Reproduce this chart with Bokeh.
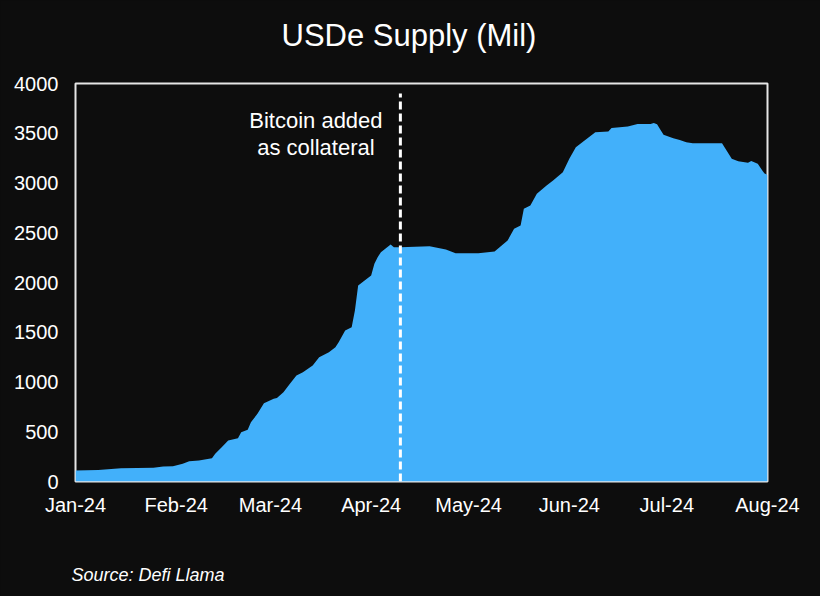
from datetime import datetime
from bokeh.plotting import figure
from bokeh.models import (ColumnDataSource, Range1d, FixedTicker, DatetimeTickFormatter, Title)
from bokeh.core.properties import value
from bokeh.embed import file_html
from bokeh.resources import INLINE

# ---------------- data ----------------
dates = ["2024-01-01", "2024-01-08", "2024-01-15", "2024-01-25", "2024-01-28", "2024-01-31",
         "2024-02-03", "2024-02-05", "2024-02-08", "2024-02-12", "2024-02-13", "2024-02-15",
         "2024-02-17", "2024-02-20", "2024-02-21", "2024-02-23", "2024-02-24", "2024-02-26",
         "2024-02-28", "2024-03-02", "2024-03-03", "2024-03-05", "2024-03-07", "2024-03-09",
         "2024-03-11", "2024-03-14", "2024-03-16", "2024-03-19", "2024-03-21", "2024-03-22",
         "2024-03-24", "2024-03-26", "2024-03-27", "2024-03-28", "2024-03-30", "2024-04-01",
         "2024-04-02", "2024-04-03", "2024-04-04", "2024-04-07", "2024-04-08", "2024-04-10",
         "2024-04-19", "2024-04-24", "2024-04-27", "2024-05-04", "2024-05-09", "2024-05-10",
         "2024-05-13", "2024-05-15", "2024-05-17", "2024-05-18", "2024-05-20", "2024-05-22",
         "2024-05-25", "2024-05-27", "2024-05-30", "2024-06-01", "2024-06-03", "2024-06-05",
         "2024-06-09", "2024-06-13", "2024-06-14", "2024-06-19", "2024-06-22", "2024-06-26",
         "2024-06-27", "2024-06-28", "2024-06-30", "2024-07-03", "2024-07-05", "2024-07-07",
         "2024-07-09", "2024-07-18", "2024-07-21", "2024-07-23", "2024-07-26", "2024-07-27",
         "2024-07-29", "2024-07-31", "2024-08-01"]
supply = [110, 115, 134, 137, 150, 153,
          178, 204, 210, 234, 278, 345,
          412, 435, 495, 520, 596, 680,
          787, 831, 838, 898, 982, 1065,
          1098, 1166, 1249, 1300, 1350, 1400,
          1518, 1551, 1719, 1970, 2020, 2070,
          2188, 2254, 2305, 2382, 2355, 2355,
          2365, 2332, 2295, 2295, 2312, 2338,
          2422, 2539, 2573, 2740, 2774, 2891,
          2975, 3025, 3108, 3243, 3360, 3410,
          3510, 3517, 3554, 3567, 3594, 3594,
          3604, 3590, 3484, 3450, 3433, 3410,
          3400, 3400, 3243, 3219, 3203, 3220,
          3193, 3098, 3080]

month_ticks = ["2024-01-01", "2024-02-01", "2024-03-01", "2024-04-01",
               "2024-05-01", "2024-06-01", "2024-07-01", "2024-08-01"]
y_ticks = [0, 500, 1000, 1500, 2000, 2500, 3000, 3500, 4000]

event_date = "2024-04-10"
event_text = ["Bitcoin added", "as collateral"]
event_text_x = "2024-03-15"
event_text_y = [3630, 3360]
event_line_y = [0, 3900]

title_text = "USDe Supply (Mil)"
source_text = "Source: Defi Llama"

# ---------------- helpers ----------------
def d(s):
    return datetime.strptime(s, "%Y-%m-%d")

def ms(s):
    return d(s).timestamp() * 1000.0

BG = "#0d0d0d"
BLUE = "#42B0FA"
FONT = "Liberation Sans"

src = ColumnDataSource(dict(x=[d(s) for s in dates], y=supply, y0=[0] * len(supply)))

p = figure(width=820, height=596, x_axis_type="datetime",
           output_backend="svg", toolbar_location=None,
           x_range=Range1d(d(month_ticks[0]), d(month_ticks[-1])),
           y_range=Range1d(0, 4000),
           min_border_left=75, min_border_right=53,
           min_border_top=83, min_border_bottom=115)
p.title_location = None

p.background_fill_color = BG
p.border_fill_color = BG
p.outline_line_color = "#e6e6e6"
p.outline_line_width = 2
p.xgrid.grid_line_color = None
p.ygrid.grid_line_color = None

p.varea(x="x", y1="y0", y2="y", source=src, fill_color=BLUE, fill_alpha=1.0)

# event line
p.line(x=[d(event_date), d(event_date)], y=event_line_y, line_color="white",
       line_width=3, line_dash="8 4")
p.text(x=[d(event_text_x)] * 2, y=event_text_y, text=event_text,
       text_color="white", text_font=value(FONT), text_font_size="22px",
       text_align="center", text_baseline="middle")

# axes
for ax in (p.xaxis[0], p.yaxis[0]):
    ax.axis_line_color = None
    ax.major_tick_line_color = None
    ax.minor_tick_line_color = None
    ax.major_tick_out = 0
    ax.major_tick_in = 0
    ax.minor_tick_out = 0
    ax.major_label_text_color = "white"
    ax.major_label_text_font = FONT
    ax.major_label_text_font_size = "20px"

p.xaxis.ticker = FixedTicker(ticks=[ms(s) for s in month_ticks])
p.xaxis.formatter = DatetimeTickFormatter(months="%b-%y", days="%b-%y", years="%b-%y")
p.xaxis.major_label_standoff = 12
p.yaxis.ticker = FixedTicker(ticks=y_ticks)
p.yaxis.major_label_standoff = 17

# title (with spacer between it and the frame)
p.add_layout(Title(text=" ", text_font_size="1px", standoff=28, text_color=BG), "above")
p.add_layout(Title(text=title_text, align="left", offset=206, standoff=0,
                   text_color="white", text_font=FONT, text_font_size="31px",
                   text_font_style="normal"), "above")
# source (with spacer below the axis)
p.add_layout(Title(text=" ", text_font_size="1px", standoff=41, text_color=BG), "below")
p.add_layout(Title(text=source_text, align="left", offset=-4, standoff=0,
                   text_color="white", text_font=FONT, text_font_size="18px",
                   text_font_style="italic"), "below")

html = file_html(p, INLINE)
html = html.replace("<head>", "<head><style>html,body{background:#0d0d0d;}</style>", 1)
open("out.html", "w").write(html)
